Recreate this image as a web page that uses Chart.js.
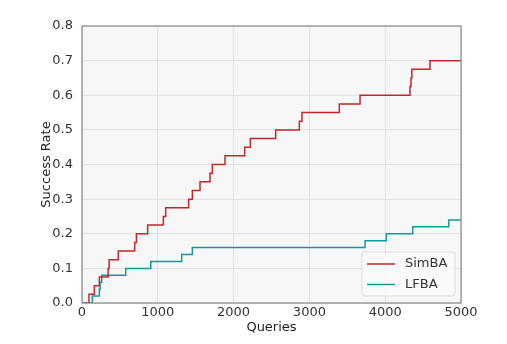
<!DOCTYPE html>
<html>
<head>
<meta charset="utf-8">
<script src="https://cdn.jsdelivr.net/npm/chart.js@4/dist/chart.umd.min.js"></script>
<style>
  html, body { margin: 0; padding: 0; background: #fff; }
  #wrap { width: 507px; height: 344px; }
</style>
</head>
<body>
<div id="wrap"><canvas id="success-chart"></canvas></div>
<script>
// queries at which the success rate steps up, and the rate reached there
var simbaQueries = [0, 92, 163, 229, 345, 358, 479, 695, 718, 866, 1073, 1104, 1407, 1456, 1557, 1689, 1719, 1887, 2146, 2221, 2555, 2867, 2902, 3395, 3668, 4327, 4340, 4352, 4591, 5000];
var simbaRate = [0, 0.025, 0.05, 0.075, 0.1, 0.125, 0.15, 0.175, 0.2, 0.225, 0.25, 0.275, 0.3, 0.325, 0.35, 0.375, 0.4, 0.425, 0.45, 0.475, 0.5, 0.525, 0.55, 0.575, 0.6, 0.625, 0.65, 0.675, 0.7, 0.7];

var lfbaQueries = [0, 136, 229, 240, 260, 577, 907, 1315, 1456, 3734, 4015, 4363, 4838, 5000];
var lfbaRate = [0, 0.02, 0.04, 0.06, 0.08, 0.1, 0.12, 0.14, 0.16, 0.18, 0.2, 0.22, 0.24, 0.24];

var seriesNames = ['SimBA', 'LFBA'];
var xTicks = [0, 1000, 2000, 3000, 4000, 5000];
var yTicks = [0, 0.1, 0.2, 0.3, 0.4, 0.5, 0.6, 0.7, 0.8];

function toPoints(xs, ys) {
    return xs.map(function (x, i) { return { x: x, y: ys[i] }; });
}

Chart.defaults.font.family = "'DejaVu Sans', sans-serif";
Chart.defaults.font.size = 13;
Chart.defaults.color = '#333';

// grey plot background and a full frame, like the matplotlib style
var frame = {
    id: 'frame',
    beforeDraw: function (chart) {
        var a = chart.chartArea, ctx = chart.ctx;
        ctx.save();
        ctx.fillStyle = '#f7f7f7';
        ctx.fillRect(a.left, a.top, a.right - a.left, a.bottom - a.top);
        ctx.restore();
    },
    afterDraw: function (chart) {
        var a = chart.chartArea, ctx = chart.ctx;
        ctx.save();
        ctx.strokeStyle = '#8a8a8a';
        ctx.lineWidth = 1.2;
        ctx.strokeRect(a.left, a.top, a.right - a.left, a.bottom - a.top);

        // legend box in the lower right corner
        var w = 93, h = 44;
        var x0 = a.right - 6 - w, y0 = a.bottom - 7 - h;
        ctx.beginPath();
        ctx.roundRect(x0, y0, w, h, 3);
        ctx.fillStyle = 'rgba(250,250,250,0.9)';
        ctx.fill();
        ctx.strokeStyle = '#dddddd';
        ctx.lineWidth = 1;
        ctx.stroke();
        ctx.font = "13px 'DejaVu Sans', sans-serif";
        ctx.textBaseline = 'middle';
        chart.data.datasets.forEach(function (ds, i) {
            var yy = y0 + 12 + i * 20.5;
            ctx.beginPath();
            ctx.moveTo(x0 + 5, yy);
            ctx.lineTo(x0 + 33, yy);
            ctx.strokeStyle = ds.borderColor;
            ctx.lineWidth = 1.5;
            ctx.stroke();
            ctx.fillStyle = '#333';
            ctx.fillText(ds.label, x0 + 43, yy);
        });
        ctx.restore();
    }
};

new Chart(document.getElementById('success-chart').getContext('2d'), {
    type: 'line',
    data: {
        datasets: [{
            label: seriesNames[0],
            data: toPoints(simbaQueries, simbaRate),
            borderColor: '#c1272d',
            borderWidth: 1.5,
            stepped: true,
            pointRadius: 0,
            fill: false
        }, {
            label: seriesNames[1],
            data: toPoints(lfbaQueries, lfbaRate),
            borderColor: '#16979a',
            borderWidth: 1.5,
            stepped: true,
            pointRadius: 0,
            fill: false
        }]
    },
    options: {
        responsive: true,
        maintainAspectRatio: false,
        animation: false,
        layout: { padding: { left: 33, right: 46, top: 26, bottom: 0 } },
        plugins: {
            legend: { display: false },
            tooltip: { enabled: false }
        },
        scales: {
            x: {
                type: 'linear',
                min: 0,
                max: 5000,
                afterBuildTicks: function (scale) {
                    scale.ticks = xTicks.map(function (v) { return { value: v }; });
                },
                afterFit: function (scale) {
                    scale.height = 41;
                    scale.paddingLeft = 0;
                    scale.paddingRight = 0;
                },
                grid: { color: '#e2e2e2', lineWidth: 1, drawTicks: false },
                border: { display: false },
                ticks: {
                    padding: 2,
                    maxRotation: 0,
                    color: '#333',
                    callback: function (v) { return String(v); }
                },
                title: { display: true, text: 'Queries', color: '#222', padding: { top: 0, bottom: 9 } }
            },
            y: {
                min: 0,
                max: 0.8,
                afterBuildTicks: function (scale) {
                    scale.ticks = yTicks.map(function (v) { return { value: v }; });
                },
                afterFit: function (scale) {
                    scale.width = 49;
                    scale.paddingTop = 0;
                    scale.paddingBottom = 0;
                },
                grid: { color: '#e2e2e2', lineWidth: 1, drawTicks: false },
                border: { display: false },
                ticks: {
                    padding: 9,
                    color: '#333',
                    callback: function (v) { return Number(v).toFixed(1); }
                },
                title: { display: true, text: 'Success Rate', color: '#222', padding: { top: 6, bottom: 0 } }
            }
        }
    },
    plugins: [frame]
});
</script>
</body>
</html>
